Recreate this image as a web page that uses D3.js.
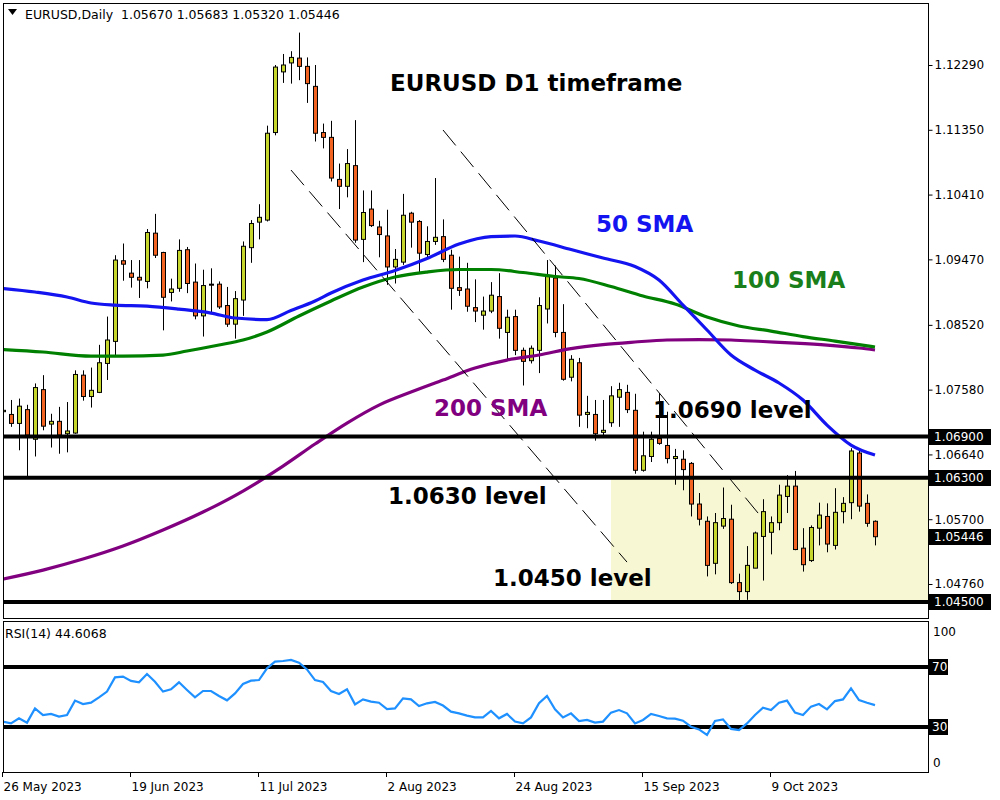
<!DOCTYPE html>
<html><head><meta charset="utf-8">
<script src="https://cdn.jsdelivr.net/npm/d3@7"></script>
<style>body{margin:0;background:#fff}svg{display:block}</style>
</head><body><svg id="c" width="1000" height="800"></svg>
<script>
// ---- data (daily EURUSD bars, index 0 = 26 May 2023) ----
const opens  = [1.0726,1.0722,1.0709,1.0729,1.0686,1.0758,1.0708,1.0712,1.0694,1.0695,1.0779,1.0748,1.0754,1.0796,1.0828,1.0945,1.0927,1.0921,1.0915,1.0985,1.0957,1.0899,1.0905,1.0961,1.0914,1.0865,1.0911,1.0911,1.0880,1.0853,1.0888,1.0964,1.1001,1.1004,1.1131,1.1219,1.1232,1.1239,1.1227,1.1198,1.1131,1.1124,1.1063,1.1053,1.1083,1.0976,1.1020,1.0994,1.0981,1.0936,1.0943,1.1014,1.1002,1.0954,1.0973,1.0980,1.0953,1.0906,1.0904,1.0877,1.0866,1.0872,1.0893,1.0841,1.0864,1.0815,1.0800,1.0815,1.0875,1.0920,1.0841,1.0776,1.0797,1.0722,1.0722,1.0696,1.0710,1.0747,1.0754,1.0728,1.0641,1.0661,1.0687,1.0677,1.0658,1.0657,1.0651,1.0592,1.0567,1.0506,1.0560,1.0570,1.0478,1.0465,1.0499,1.0545,1.0551,1.0565,1.0603,1.0618,1.0528,1.0510,1.0557,1.0574,1.0532,1.0581,1.0594,1.0666,1.0593,1.05670];
const highs  = [1.0759,1.0743,1.0745,1.0736,1.0767,1.0779,1.0723,1.0733,1.0740,1.0786,1.0786,1.0790,1.0823,1.0864,1.0953,1.0970,1.0946,1.0946,1.0991,1.1013,1.0958,1.0919,1.0976,1.0965,1.0941,1.0932,1.0934,1.0915,1.0907,1.0901,1.0973,1.1004,1.1027,1.1141,1.1229,1.1245,1.1249,1.1276,1.1240,1.1229,1.1144,1.1148,1.1086,1.1107,1.1149,1.1047,1.1047,1.1003,1.1019,1.0962,1.1042,1.1016,1.1004,1.0995,1.1065,1.1005,1.0961,1.0951,1.0942,1.0918,1.0893,1.0914,1.0927,1.0874,1.0874,1.0819,1.0822,1.0892,1.0946,1.0938,1.0882,1.0808,1.0804,1.0749,1.0743,1.0743,1.0763,1.0768,1.0765,1.0752,1.0697,1.0697,1.0753,1.0726,1.0672,1.0670,1.0653,1.0608,1.0574,1.0579,1.0616,1.0591,1.0491,1.0531,1.0552,1.0599,1.0574,1.0620,1.0634,1.0640,1.0557,1.0561,1.0594,1.0593,1.0615,1.0602,1.0673,1.0670,1.0606,1.05683];
const lows   = [1.0699,1.0704,1.0670,1.0632,1.0661,1.0699,1.0674,1.0665,1.0667,1.0694,1.0742,1.0732,1.0753,1.0772,1.0808,1.0916,1.0906,1.0891,1.0905,1.0949,1.0844,1.0886,1.0900,1.0898,1.0860,1.0835,1.0868,1.0875,1.0849,1.0832,1.0865,1.0942,1.0976,1.1002,1.1127,1.1203,1.1202,1.1207,1.1174,1.1118,1.1108,1.1060,1.1020,1.1037,1.0971,1.0943,1.0994,1.0950,1.0910,1.0912,1.0939,1.0964,1.0928,1.0950,1.0968,1.0943,1.0874,1.0894,1.0871,1.0856,1.0845,1.0869,1.0832,1.0802,1.0808,1.0764,1.0796,1.0782,1.0854,1.0834,1.0771,1.0770,1.0704,1.0702,1.0684,1.0692,1.0704,1.0704,1.0724,1.0636,1.0639,1.0653,1.0678,1.0651,1.0620,1.0612,1.0574,1.0561,1.0487,1.0490,1.0556,1.0476,1.0447,1.0453,1.0499,1.0481,1.0519,1.0554,1.0579,1.0525,1.0494,1.0508,1.0532,1.0522,1.0526,1.0564,1.0570,1.0581,1.0559,1.05320];
const closes = [1.0728,1.0709,1.0734,1.0692,1.0761,1.0705,1.0712,1.0692,1.0698,1.0780,1.0748,1.0757,1.0797,1.0830,1.0946,1.0940,1.0921,1.0917,1.0986,1.0953,1.0892,1.0904,1.0960,1.0912,1.0865,1.0909,1.0910,1.0878,1.0853,1.0890,1.0966,1.0999,1.1008,1.1130,1.1226,1.1229,1.1240,1.1227,1.1202,1.1130,1.1124,1.1065,1.1053,1.1086,1.0975,1.1015,1.0996,1.0983,1.0936,1.0947,1.1011,1.1001,1.0956,1.0973,1.0979,1.0947,1.0905,1.0902,1.0879,1.0872,1.0872,1.0895,1.0847,1.0863,1.0815,1.0799,1.0818,1.0880,1.0922,1.0841,1.0773,1.0802,1.0721,1.0725,1.0694,1.0699,1.0749,1.0758,1.0729,1.0641,1.0662,1.0686,1.0680,1.0658,1.0661,1.0642,1.0592,1.0570,1.0503,1.0565,1.0571,1.0478,1.0465,1.0503,1.0550,1.0581,1.0565,1.0605,1.0618,1.0526,1.0504,1.0558,1.0576,1.0534,1.0580,1.0593,1.0669,1.0589,1.0564,1.05446];
const rsiValues = [33.5,32.4,35.8,32.9,42.4,38,38.7,36.9,38,47.6,45.3,46.2,49.8,53.6,63.1,63.6,60.7,59.8,65.3,60.2,53.6,55.1,59.8,54.7,49.8,54,54,50.7,47.8,52.4,58.7,60.9,61.3,69.1,73.6,74,74.7,72.9,68.4,61.3,60,54,52,55.1,45.1,48.4,46.9,46.2,42,42.4,49.1,48.4,44,45.8,46.7,44.3,40.2,39.1,37.6,36.4,36.4,40.7,35.8,38.7,33.6,32.4,36.4,45.8,50.7,41.8,36.4,39.1,34,34.7,32.9,33.6,39.6,41.3,39.1,32.4,34.7,38.7,37.3,35.8,35.6,34.2,30.2,28.4,24.7,34,35.1,28.7,28,32.4,38,42.9,41.3,46.2,47.6,39.6,38,43.6,45.3,41.8,47.3,48.4,55.8,48,46.2,44.6];
// moving averages read at sample bars
const sma50Bars   = [0,4,8,11,14,18,22,26,29,33,36,39,41,45,49,53,57,61,64,67,71,75,79,82,85,88,91,94,97,100,103,106,109];
const sma50Vals   = [1.09047,1.08996,1.08924,1.08837,1.08807,1.08793,1.08749,1.08691,1.08619,1.08597,1.08728,1.08866,1.08982,1.0917,1.09308,1.09482,1.09693,1.09801,1.09809,1.09736,1.09613,1.09489,1.09366,1.0917,1.08807,1.08445,1.08082,1.07864,1.07676,1.07429,1.07066,1.06776,1.06631];
const sma100Bars  = [0,5,11,15,20,23,27,30,33,37,41,45,49,53,57,61,65,69,72,76,80,84,88,92,96,100,104,109];
const sma100Vals  = [1.08162,1.08126,1.08067,1.08067,1.08082,1.0814,1.08227,1.083,1.08416,1.08648,1.08866,1.09069,1.09214,1.09286,1.09323,1.09323,1.09279,1.09221,1.09192,1.09076,1.08938,1.08822,1.08633,1.08503,1.0843,1.0835,1.08285,1.08198];
const sma200Bars  = [0,5,10,15,20,25,30,35,39,43,47,51,55,59,63,67,71,75,79,83,87,91,95,99,103,107,109];
const sma200Vals  = [1.04832,1.04962,1.05122,1.05311,1.05543,1.05804,1.06109,1.06471,1.06791,1.07095,1.07356,1.07545,1.07719,1.07893,1.08009,1.08082,1.08176,1.08234,1.08271,1.083,1.08307,1.083,1.08278,1.08256,1.08227,1.08184,1.08155];
const priceTicks  = [1.12290,1.11350,1.10410,1.09470,1.08520,1.07580,1.06640,1.05700,1.04760];
const levelPrices = [1.0690,1.0630,1.0450];
const levelTexts  = ["1.0690 level","1.0630 level","1.0450 level"];
const currentPrice = 1.05446;
const dateTickBars   = [0,16,32,48,64,80,96];
const dateTickLabels = ["26 May 2023","19 Jun 2023","11 Jul 2023","2 Aug 2023","24 Aug 2023","15 Sep 2023","9 Oct 2023"];
const channelLine1 = [[36,1.10766],[78,1.05078]];
const channelLine2 = [[55,1.11347],[95,1.05702]];
const zoneStartBar = 76;
const rsiLevels = [70,30];
const rsiAxisLabels = [100,0];

// ---- drawing ----
const svg = d3.select("#c");
const L = 3, R = 928, T = 3, B = 618, RT = 621, RB = 772;
const x = d3.scaleLinear().domain([0,109]).range([3,875]);
const y = d3.scaleLinear().domain([1.0476,1.1229]).range([584,65]);
const yr = d3.scaleLinear().domain([0,100]).range([772,622]);
const font = "DejaVu Sans, Verdana, sans-serif";

svg.append("rect").attr("width",1000).attr("height",800).attr("fill","#fff");
const defs = svg.append("defs");
defs.append("clipPath").attr("id","mainClip").append("rect").attr("x",L+1).attr("y",T+1).attr("width",R-L-1).attr("height",B-T-1);
defs.append("clipPath").attr("id","rsiClip").append("rect").attr("x",L+1).attr("y",RT+1).attr("width",R-L-1).attr("height",RB-RT-1);

const main = svg.append("g").attr("clip-path","url(#mainClip)");
// zone
main.append("rect").attr("x",x(zoneStartBar)).attr("y",y(levelPrices[1]))
  .attr("width",R-x(zoneStartBar)).attr("height",y(levelPrices[2])-y(levelPrices[1]))
  .attr("fill","#f7f7d4");

// candles
const bars = d3.range(opens.length).map(i=>({i,o:opens[i],h:highs[i],l:lows[i],c:closes[i]}));
const cg = main.append("g");
cg.selectAll("line.w").data(bars).join("line")
  .attr("x1",d=>Math.round(x(d.i))+0.5).attr("x2",d=>Math.round(x(d.i))+0.5)
  .attr("y1",d=>y(d.h)).attr("y2",d=>y(d.l)).attr("stroke","#000").attr("stroke-width",1);
cg.selectAll("rect.b").data(bars).join("rect")
  .attr("x",d=>Math.round(x(d.i))-1.5).attr("width",4)
  .attr("y",d=>y(Math.max(d.o,d.c))).attr("height",d=>Math.max(1,Math.abs(y(d.o)-y(d.c))))
  .attr("fill",d=>d.c>=d.o?"#c6d62c":"#f26322").attr("stroke","#000").attr("stroke-width",1);

// SMAs
const smaLine = d3.line().x(d=>x(d[0])).y(d=>y(d[1])).curve(d3.curveMonotoneX);
[[sma200Bars,sma200Vals,"#800080"],[sma100Bars,sma100Vals,"#008000"],[sma50Bars,sma50Vals,"#1414f0"]].forEach(([b,v,col])=>{
  main.append("path").datum(b.map((bi,k)=>[bi,v[k]])).attr("d",smaLine)
    .attr("fill","none").attr("stroke",col).attr("stroke-width",3.2);
});

// channel dashed lines
[channelLine1,channelLine2].forEach(pts=>{
  main.append("line").attr("x1",x(pts[0][0])).attr("y1",y(pts[0][1])).attr("x2",x(pts[1][0])).attr("y2",y(pts[1][1]))
    .attr("stroke","#000").attr("stroke-width",1).attr("stroke-dasharray","20,8");
});

// horizontal levels
levelPrices.forEach(p=>{
  main.append("line").attr("x1",L).attr("x2",R).attr("y1",y(p)).attr("y2",y(p)).attr("stroke","#000").attr("stroke-width",4);
});

// panel borders
svg.append("rect").attr("x",L+0.5).attr("y",T+0.5).attr("width",R-L).attr("height",B-T).attr("fill","none").attr("stroke","#000");
svg.append("rect").attr("x",L+0.5).attr("y",RT+0.5).attr("width",R-L).attr("height",RB-RT).attr("fill","none").attr("stroke","#000");

// price axis
const yAxis = d3.axisRight(y).tickValues(priceTicks).tickFormat(d3.format(".5f")).tickSize(4).tickPadding(2);
const ya = svg.append("g").attr("transform",`translate(${R+0.5},0)`).call(yAxis);
ya.select(".domain").remove();
ya.selectAll("text").attr("font-family",font).attr("font-size",12).attr("fill","#000");
ya.selectAll("line").attr("stroke","#000");

// boxed price labels
const boxLabels = [levelPrices[0],levelPrices[1],currentPrice,levelPrices[2]];
boxLabels.forEach(p=>{
  const yy = Math.round(y(p));
  svg.append("rect").attr("x",R+1).attr("y",yy-8).attr("width",62).attr("height",16).attr("fill","#000");
  svg.append("text").attr("x",R+6).attr("y",yy).attr("dy","0.36em").attr("fill","#fff")
    .attr("font-family",font).attr("font-size",12).text(d3.format(".5f")(p));
});

// annotations
const ann = svg.append("g").attr("font-family",font).attr("font-weight","bold").attr("font-size",23);
ann.append("text").attr("x",390).attr("y",91).attr("fill","#000").text("EURUSD D1 timeframe");
ann.append("text").attr("x",596).attr("y",232).attr("fill","#1414f0").text("50 SMA");
ann.append("text").attr("x",732).attr("y",288).attr("fill","#1a7f1a").text("100 SMA");
ann.append("text").attr("x",434).attr("y",416).attr("fill","#800080").text("200 SMA");
ann.append("text").attr("x",653).attr("y",418).attr("fill","#000").text(levelTexts[0]);
ann.append("text").attr("x",388).attr("y",504).attr("fill","#000").text(levelTexts[1]);
ann.append("text").attr("x",493).attr("y",586).attr("fill","#000").text(levelTexts[2]);

// header
svg.append("path").attr("d","M8,9 L17,9 L12.5,15 Z").attr("fill","#000");
svg.append("text").attr("x",25).attr("y",19).attr("font-family",font).attr("font-size",12.5).attr("fill","#000")
  .attr("xml:space","preserve").style("white-space","pre")
  .text("EURUSD,Daily  "+[opens[109],highs[109],lows[109],closes[109]].map(d3.format(".5f")).join(" "));

// RSI panel
const rg = svg.append("g").attr("clip-path","url(#rsiClip)");
rsiLevels.forEach(v=>{
  rg.append("line").attr("x1",L).attr("x2",R).attr("y1",yr(v)).attr("y2",yr(v)).attr("stroke","#000").attr("stroke-width",4);
});
rg.append("path").datum(rsiValues).attr("d",d3.line().x((d,i)=>x(i)).y(d=>yr(d)))
  .attr("fill","none").attr("stroke","#1e90ff").attr("stroke-width",2.2);
svg.append("text").attr("x",5).attr("y",638).attr("font-family",font).attr("font-size",12.5).attr("fill","#000")
  .text("RSI(14) "+d3.format(".4f")(44.6068));
rsiLevels.forEach(v=>{
  const yy = Math.round(yr(v));
  svg.append("rect").attr("x",R+1).attr("y",yy-8).attr("width",19).attr("height",16).attr("fill","#000");
  svg.append("text").attr("x",R+4).attr("y",yy).attr("dy","0.36em").attr("fill","#fff").attr("font-family",font).attr("font-size",12).text(v);
});
svg.append("text").attr("x",R+5).attr("y",yr(rsiAxisLabels[0])+10).attr("dy","0.36em").attr("font-family",font).attr("font-size",12).text(rsiAxisLabels[0]);
svg.append("text").attr("x",R+5).attr("y",yr(rsiAxisLabels[1])-9).attr("dy","0.36em").attr("font-family",font).attr("font-size",12).text(rsiAxisLabels[1]);

// date axis
const xa = svg.append("g");
dateTickBars.forEach((b,k)=>{
  const xx = Math.round(x(b))-0.5;
  xa.append("line").attr("x1",xx).attr("x2",xx).attr("y1",RB).attr("y2",RB+5).attr("stroke","#000");
  xa.append("text").attr("x",xx+1).attr("y",787).attr("dy","0.36em").attr("font-family",font).attr("font-size",12).text(dateTickLabels[k]);
});
</script></body></html>
